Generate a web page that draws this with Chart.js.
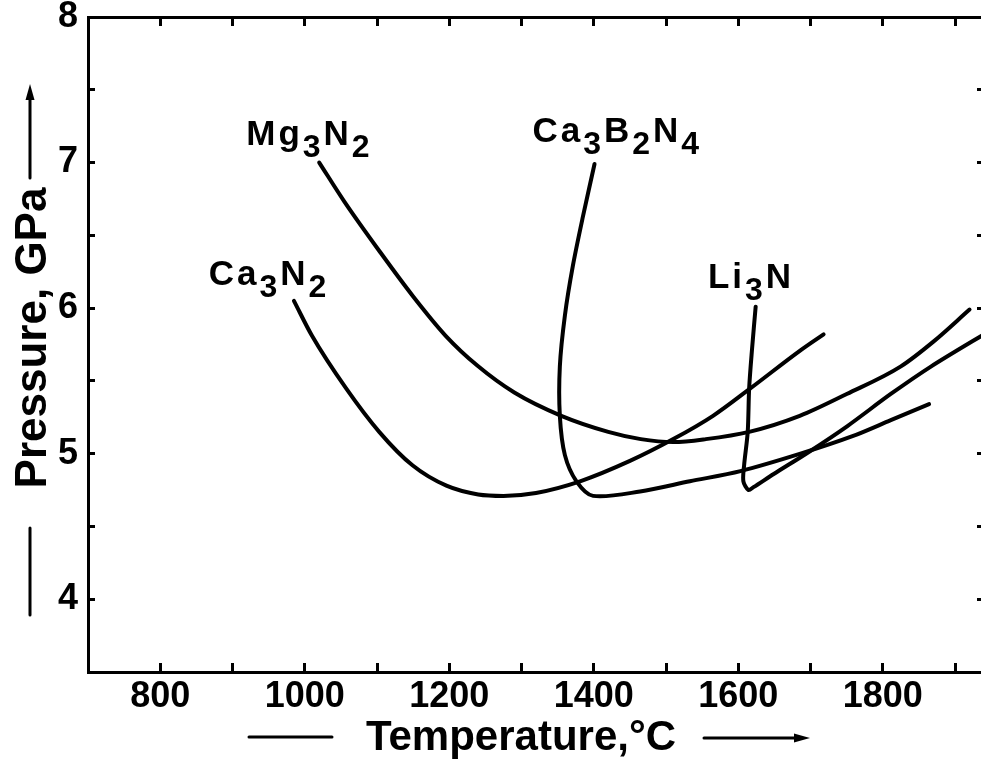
<!DOCTYPE html>
<html>
<head>
<meta charset="utf-8">
<script src="https://cdn.jsdelivr.net/npm/chart.js@4.4.1/dist/chart.umd.min.js"></script>
<style>
  html, body { margin: 0; padding: 0; background: #fff; overflow: hidden; }
  #wrap { width: 1000px; height: 763px; }
</style>
</head>
<body>
<div id="wrap"><canvas id="chart" width="1000" height="763"></canvas></div>
<script>
// temperature (°C) and pressure (GPa)
const mg3n2T = [1020, 1055, 1105, 1150, 1195, 1240, 1290, 1355, 1420, 1465, 1510, 1555, 1615, 1685, 1750, 1825, 1870, 1920];
const mg3n2P = [7.00, 6.73, 6.38, 6.08, 5.81, 5.60, 5.42, 5.26, 5.15, 5.10, 5.08, 5.10, 5.15, 5.26, 5.41, 5.60, 5.77, 5.99];

const ca3n2T = [985, 1010, 1057, 1103, 1149, 1196, 1240, 1275, 1320, 1381, 1450, 1510, 1565, 1617, 1686, 1718];
const ca3n2P = [6.05, 5.81, 5.45, 5.15, 4.92, 4.78, 4.72, 4.71, 4.73, 4.81, 4.95, 5.10, 5.26, 5.45, 5.71, 5.82];

const ca3b2n4T = [1401, 1385, 1371, 1360, 1353, 1353, 1360, 1376, 1399, 1464, 1533, 1603, 1686, 1758, 1811, 1864];
const ca3b2n4P = [6.99, 6.63, 6.29, 5.95, 5.60, 5.26, 4.99, 4.81, 4.71, 4.74, 4.81, 4.88, 5.00, 5.12, 5.23, 5.34];

const li3nT = [1624, 1619, 1615, 1613, 1608, 1607, 1614, 1621, 1649, 1697, 1751, 1811, 1867, 1950];
const li3nP = [6.01, 5.72, 5.45, 5.15, 4.92, 4.81, 4.75, 4.77, 4.86, 5.01, 5.19, 5.41, 5.60, 5.85];

const curveNames = ["Mg3N2", "Ca3N2", "Ca3B2N4", "Li3N"];
const xTickLabels = [800, 1000, 1200, 1400, 1600, 1800];
const yTickLabels = [4, 5, 6, 7, 8];

const FONT = "'Liberation Sans', Arial, sans-serif";
const INK = "#000";

// left end of each name's baseline, in data units
const nameSpots = {
  Mg3N2: { x: 919, y: 7.12 },
  Ca3N2: { x: 867, y: 6.16 },
  Ca3B2N4: { x: 1315, y: 7.14 },
  Li3N: { x: 1558, y: 6.14 },
};

function toPoints(ts, ps) {
  return ts.map((t, i) => ({ x: t, y: ps[i] }));
}

const series = [
  toPoints(mg3n2T, mg3n2P),
  toPoints(ca3n2T, ca3n2P),
  toPoints(ca3b2n4T, ca3b2n4P),
  toPoints(li3nT, li3nP),
];

// the first two curves run left to right, so monotone keeps them smooth
const curveModes = ["monotone", "monotone", "default", "default"];

function strokeLine(ctx, x1, y1, x2, y2) {
  ctx.beginPath();
  ctx.moveTo(x1, y1);
  ctx.lineTo(x2, y2);
  ctx.stroke();
}

// line with a small filled head at (x2, y2)
function arrow(ctx, x1, y1, x2, y2) {
  const a = Math.atan2(y2 - y1, x2 - x1);
  const len = 16, half = 4.5;
  const bx = x2 - len * Math.cos(a), by = y2 - len * Math.sin(a);
  strokeLine(ctx, x1, y1, bx, by);
  ctx.beginPath();
  ctx.moveTo(x2, y2);
  ctx.lineTo(bx + half * Math.sin(a), by - half * Math.cos(a));
  ctx.lineTo(bx - half * Math.sin(a), by + half * Math.cos(a));
  ctx.closePath();
  ctx.fill();
}

const decorations = {
  id: "decorations",
  afterDraw(chart) {
    const { ctx, scales } = chart;
    ctx.save();
    ctx.fillStyle = INK;
    ctx.strokeStyle = INK;
    ctx.textAlign = "left";
    ctx.textBaseline = "alphabetic";

    // curve names, digits set as subscripts
    curveNames.forEach((name) => {
      const spot = nameSpots[name];
      let px = scales.x.getPixelForValue(spot.x);
      const py = scales.y.getPixelForValue(spot.y);
      for (const ch of name) {
        const sub = /\d/.test(ch);
        ctx.font = `bold ${sub ? 32 : 35}px ${FONT}`;
        ctx.fillText(ch, px, sub ? py + 12 : py);
        px += ctx.measureText(ch).width + 3;
      }
    });

    // axis titles with their rules and arrows
    ctx.lineWidth = 3;
    ctx.lineCap = "round";
    ctx.textAlign = "center";
    ctx.font = `bold 42px ${FONT}`;
    ctx.fillText("Temperature,°C", 521, 750);
    strokeLine(ctx, 249, 737, 332, 737);
    arrow(ctx, 704, 738, 810, 738);

    ctx.save();
    ctx.translate(46, 338);
    ctx.rotate(-Math.PI / 2);
    ctx.font = `bold 44px ${FONT}`;
    ctx.fillText("Pressure, GPa", 0, 0);
    ctx.restore();
    strokeLine(ctx, 30, 615, 30, 528);
    arrow(ctx, 30, 178, 30, 84);

    ctx.restore();
  },
};

const axisBorder = { display: true, width: 3, color: INK };

function inwardGrid(len) {
  return { drawOnChartArea: false, drawTicks: true, tickLength: -len, lineWidth: 3, color: INK };
}

// fixed scale box so the plot frame lands where the original one does
function fixBox(size) {
  return (s) => {
    if (s.isHorizontal()) s.height = size;
    else s.width = size;
    s.paddingTop = 0;
    s.paddingBottom = 0;
    s.paddingLeft = 0;
    s.paddingRight = 0;
  };
}

const tickFont = { family: FONT, size: 36, weight: "bold" };

new Chart(document.getElementById("chart"), {
  type: "line",
  data: {
    datasets: curveNames.map((name, i) => ({
      label: name,
      data: series[i],
      borderColor: INK,
      fill: false,
      cubicInterpolationMode: curveModes[i],
    })),
  },
  options: {
    responsive: false,
    animation: false,
    layout: { padding: 0 },
    plugins: { legend: { display: false }, tooltip: { enabled: false } },
    elements: {
      point: { radius: 0 },
      line: { borderWidth: 4, tension: 0.3, borderCapStyle: "round", borderJoinStyle: "round" },
    },
    scales: {
      x: {
        type: "linear",
        position: "bottom",
        min: 700,
        max: 1940,
        border: axisBorder,
        grid: inwardGrid(9),
        ticks: {
          stepSize: 100,
          includeBounds: false,
          autoSkip: false,
          maxRotation: 0,
          padding: 12,
          color: INK,
          font: tickFont,
          callback: (v) => (xTickLabels.includes(v) ? String(v) : ""),
        },
        afterFit: fixBox(91),
      },
      x2: {
        type: "linear",
        position: "top",
        min: 700,
        max: 1940,
        border: axisBorder,
        grid: inwardGrid(9),
        ticks: { display: false, stepSize: 100, includeBounds: false, autoSkip: false },
        afterFit: fixBox(17),
      },
      y: {
        type: "linear",
        position: "left",
        min: 3.5,
        max: 8,
        border: axisBorder,
        grid: inwardGrid(7),
        ticks: {
          stepSize: 0.5,
          autoSkip: false,
          padding: 17,
          color: INK,
          font: tickFont,
          callback: (v) => (yTickLabels.includes(v) ? String(v) : ""),
        },
        afterFit: fixBox(88),
      },
      y2: {
        type: "linear",
        position: "right",
        min: 3.5,
        max: 8,
        border: axisBorder,
        grid: inwardGrid(7),
        ticks: { display: false, stepSize: 0.5, autoSkip: false },
        afterFit: fixBox(16),
      },
    },
  },
  plugins: [decorations],
});
</script>
</body>
</html>
